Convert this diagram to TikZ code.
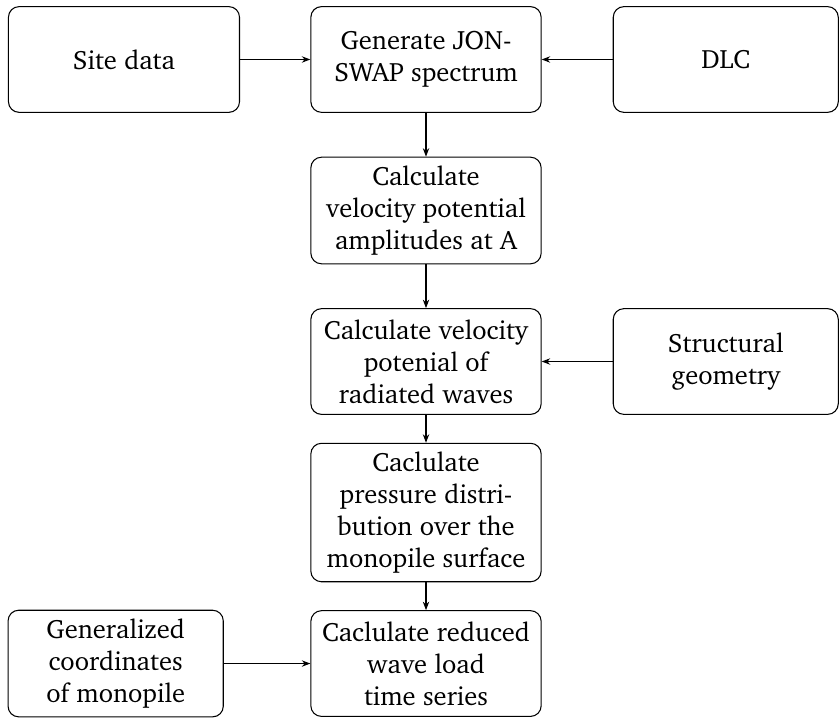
\documentclass[tikz,border=0pt]{standalone}
\usepackage[T1]{fontenc}
\usepackage{charter}
\usetikzlibrary{
  arrows.meta,
  positioning
}
\tikzset{
stepbox/.style={
  draw,
  rounded corners,
  align=center,
  line width=0.4pt,
  minimum height=1.4cm,
  minimum width=3.05cm
},
inputbox/.style={
  stepbox,
  minimum width=2.98cm
},
flow/.style={
  -{Stealth[length=3.2pt,width=2.4pt]},
  line width=0.4pt
}
}

\begin{document}
\begin{tikzpicture}[node distance=2cm and 4cm, on grid]
  \useasboundingbox (-5.642,0.788) rectangle (5.483,-8.722);

  % main column
  \node[stepbox] (spectrum) {Generate JON-\\SWAP spectrum};
  \node[stepbox, below=of spectrum] (amplitudes) {Calculate\\velocity potential\\amplitudes at A};
  \node[stepbox, below=of amplitudes] (radiated) {Calculate velocity\\potenial of\\radiated waves};
  \node[stepbox, below=of radiated] (pressure) {Caclulate\\pressure distri-\\bution over the\\monopile surface};
  \node[stepbox, below=of pressure] (loads) {Caclulate reduced\\wave load\\time series};

  % inputs
  \node[inputbox, left=of spectrum, minimum width=3.06cm] (site) {Site data};
  \node[inputbox, right=3.97cm of spectrum] (dlc) {DLC};
  \node[inputbox, right=3.97cm of radiated] (geometry) {Structural\\geometry};
  \node[inputbox, left=4.11cm of loads, minimum width=2.85cm] (coords) {Generalized\\coordinates\\of monopile};

  \draw[flow] (site) -- (spectrum);
  \draw[flow] (dlc) -- (spectrum);
  \draw[flow] (spectrum) -- (amplitudes);
  \draw[flow] (amplitudes) -- (radiated);
  \draw[flow] (geometry) -- (radiated);
  \draw[flow] (radiated) -- (pressure);
  \draw[flow] (pressure) -- (loads);
  \draw[flow] (coords) -- (loads);
\end{tikzpicture}
\end{document}
